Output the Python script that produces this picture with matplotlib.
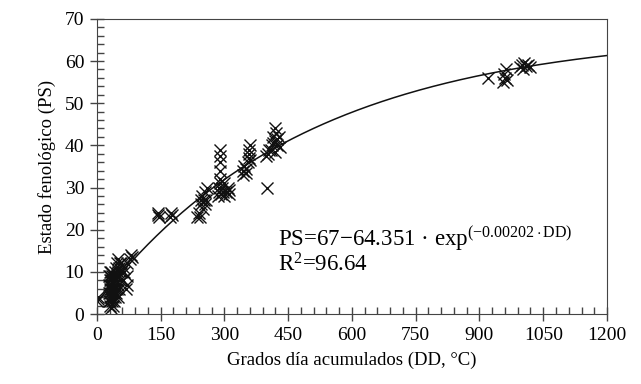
import matplotlib.pyplot as plt
import numpy as np
from matplotlib.ticker import MultipleLocator

plt.rcParams['font.family'] = ['Liberation Serif', 'DejaVu Serif']
plt.rcParams['mathtext.fontset'] = 'custom'
plt.rcParams['mathtext.rm'] = 'Liberation Serif'
plt.rcParams['mathtext.it'] = 'Liberation Serif:italic'

# observed points, grouped by sampling date (DD, PS)
dd_a = [1, 2, 3]
ps_a = [3, 4, 3.5]
dd_b = [28, 28, 28, 28, 30, 30, 30, 30, 30, 32, 32, 32, 32, 34, 34, 34, 34, 34,
        36, 36, 36, 36, 38, 38, 38, 38, 40, 40, 40, 40, 42, 42, 42, 42]
ps_b = [3, 5, 7, 9, 2, 4, 6, 8, 10, 3, 5, 7, 9, 1.5, 4, 6, 8, 10,
        3, 5, 7, 9, 2, 4, 6, 8, 3, 5, 7, 9, 4, 6, 8, 10]
dd_c = [45, 45, 45, 48, 48, 48, 50, 50, 50, 50, 53, 53, 53, 55, 55, 58, 58]
ps_c = [5, 8, 11, 6, 9, 12, 4, 7, 10, 13, 6, 9, 11, 8, 12, 10, 12]
dd_d = [62, 64, 65, 68, 70, 70, 72, 78, 80, 82]
ps_d = [8, 10, 11, 6, 7, 9, 12, 13, 14, 13.5]
dd_e = [143, 145, 147, 173, 175, 178]
ps_e = [23.5, 24, 23, 23, 24, 23.5]
dd_f = [235, 240, 242, 245, 245, 248, 250, 252, 255, 255, 258, 260]
ps_f = [23, 24, 23, 26, 27, 28, 25, 27, 26, 29, 27, 30]
dd_g = [285, 287, 288, 290, 290, 290, 290, 290, 290, 292, 295, 297, 300, 300,
        305, 308, 310, 312]
ps_g = [28, 30, 29, 31, 32, 34, 36, 37.5, 39, 28.5, 30, 29, 31, 28,
        29, 30, 28.5, 29.5]
dd_h = [343, 345, 347, 350, 350, 355, 357, 357, 358, 360, 360]
ps_h = [33, 34, 35, 33.5, 34.5, 36, 37, 38, 39, 40, 36.5]
dd_i = [400, 398, 402, 405, 410, 412, 415, 418, 420, 420, 422, 425, 428, 430, 415, 425]
ps_i = [30, 37.5, 38, 39, 39, 40, 42, 44, 41, 38.5, 43, 40, 42, 39.5, 40.5, 41.5]
dd_j = [920, 955, 958, 960, 962, 965, 995, 1000, 1002, 1005, 1010, 1015, 1020]
ps_j = [56, 55, 57, 56, 58, 55.5, 58.5, 59, 58, 59.5, 58.8, 59, 58.5]

# fitted model PS = a - b*exp(-k*DD)
fit_a, fit_b, fit_k = 67, 64.351, 0.00202

dd = dd_a + dd_b + dd_c + dd_d + dd_e + dd_f + dd_g + dd_h + dd_i + dd_j
ps = ps_a + ps_b + ps_c + ps_d + ps_e + ps_f + ps_g + ps_h + ps_i + ps_j

fig = plt.figure(figsize=(6.41, 3.84), dpi=100)
ax = fig.add_axes([0.151, 0.182, 0.796, 0.769])

ax.plot(dd, ps, 'x', color='#111111', markersize=8.5, markeredgewidth=1.0)
xx = np.linspace(0, 1200, 300)
ax.plot(xx, fit_a - fit_b * np.exp(-fit_k * xx), color='#111111', lw=1.1)

ax.set_xlim(0, 1200)
ax.set_ylim(0, 70)
ax.xaxis.set_major_locator(MultipleLocator(150))
ax.xaxis.set_minor_locator(MultipleLocator(30))
ax.yaxis.set_major_locator(MultipleLocator(10))
ax.yaxis.set_minor_locator(MultipleLocator(2))
ax.tick_params(which='major', direction='inout', length=10, width=1,
               color='#444444', labelsize=14, pad=4)
ax.tick_params(which='minor', direction='in', length=5, width=1, color='#444444')
for s in ax.spines.values():
    s.set_color('#444444')

ax.set_xlabel('Grados día acumulados (DD, °C)', fontsize=13.5, labelpad=6)
ax.set_ylabel('Estado fenológico (PS)', fontsize=13.5, labelpad=6)

ax.text(426, 16.2, 'PS=67\u221264.351 · exp$^{(-0.00202\\cdot\\mathrm{DD})}$',
        fontsize=16.5, ha='left', va='baseline')
ax.text(426, 10.2, 'R$^2$=96.64', fontsize=16.5, ha='left', va='baseline')

fig.savefig('out.png', dpi=100)
